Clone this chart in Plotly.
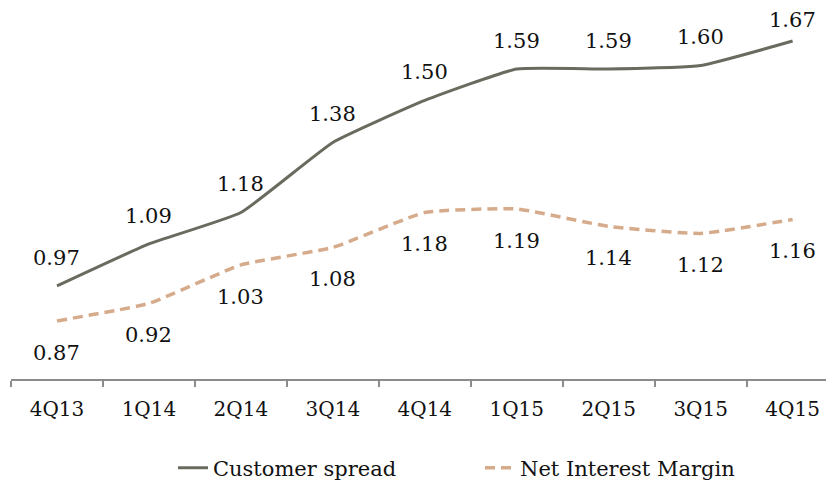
import plotly.graph_objects as go

quarters = ["4Q13", "1Q14", "2Q14", "3Q14", "4Q14", "1Q15", "2Q15", "3Q15", "4Q15"]
customer_spread = [0.97, 1.09, 1.18, 1.38, 1.50, 1.59, 1.59, 1.60, 1.67]
net_interest_margin = [0.87, 0.92, 1.03, 1.08, 1.18, 1.19, 1.14, 1.12, 1.16]

FONT = "DejaVu Serif"
GREY = "#6a6b5f"
TAN = "#d6ab8b"

W, H = 834, 485
MARGIN = dict(l=3, r=8, t=2, b=114)  # page body has an 8px margin, so margins are shifted by that
Y_RANGE = [0.704, 1.7586]
px_per_unit = (H - MARGIN["t"] - MARGIN["b"]) / (Y_RANGE[1] - Y_RANGE[0])

fig = go.Figure()
fig.add_scatter(x=quarters, y=customer_spread, name="Customer spread", mode="lines",
                line=dict(color=GREY, width=3, shape="spline", smoothing=0.4))
fig.add_scatter(x=quarters, y=net_interest_margin, name="Net Interest Margin", mode="lines",
                line=dict(color=TAN, width=3.5, dash="10px,6px", shape="spline", smoothing=0.4))

# value labels: above for spread (kept inside the plot area), below for NIM
for q, v in zip(quarters, customer_spread):
    room = (Y_RANGE[1] - v) * px_per_unit
    fig.add_annotation(x=q, y=v, text=f"{v:.2f}", showarrow=False, yshift=min(28, room - 10),
                       borderpad=0, font=dict(family=FONT, size=21, color="#111"))
for q, v in zip(quarters, net_interest_margin):
    fig.add_annotation(x=q, y=v, text=f"{v:.2f}", showarrow=False, yshift=-32, borderpad=0,
                       font=dict(family=FONT, size=21, color="#111"))

fig.update_layout(
    width=W, height=H,
    margin=MARGIN,
    paper_bgcolor="white", plot_bgcolor="white",
    font=dict(family=FONT, size=20, color="#111"),
    showlegend=True,
    legend=dict(orientation="h", xref="container", yref="container",
                x=165 / 834, xanchor="left", y=0.0515, yanchor="middle",
                font=dict(family=FONT, size=21), entrywidth=262),
)
fig.update_xaxes(range=[-0.5, 8.45], showline=True, linecolor="#8c8c8c", linewidth=2,
                 ticks="outside", tickson="boundaries", ticklen=6, tickcolor="#8c8c8c",
                 tickwidth=1.5, ticklabelstandoff=11, showgrid=False, zeroline=False,
                 automargin=False, tickfont=dict(family=FONT, size=20, color="#111"))
fig.update_yaxes(range=Y_RANGE, visible=False, showgrid=False, zeroline=False)

fig.write_html("out.html")
